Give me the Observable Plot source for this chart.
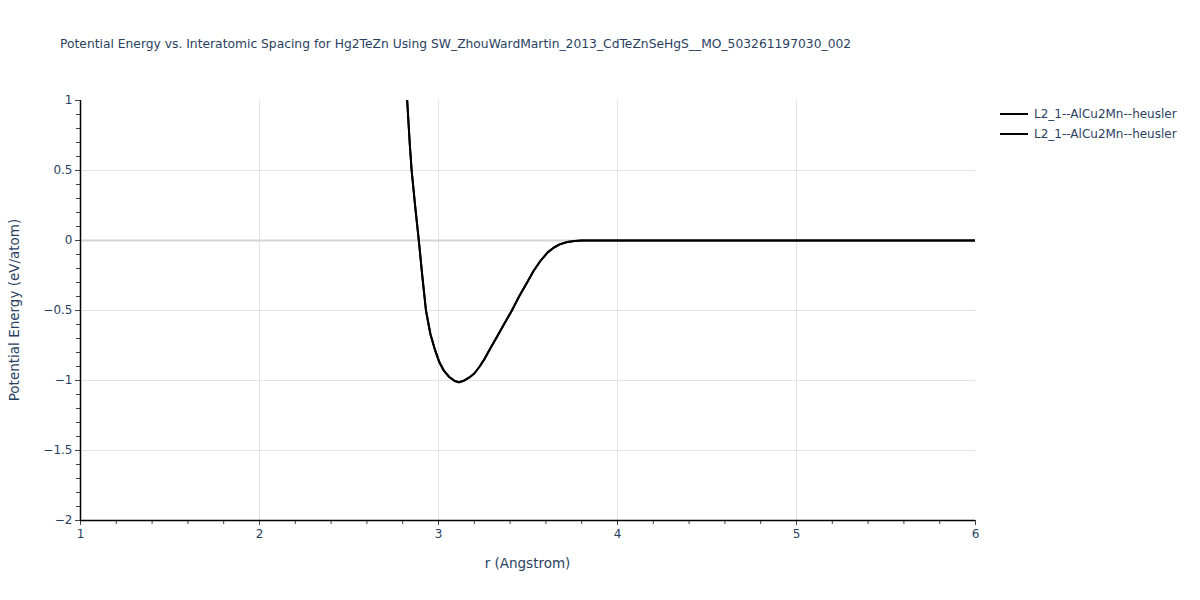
<!DOCTYPE html>
<html><head><meta charset="utf-8">
<script src="https://cdn.jsdelivr.net/npm/d3@7"></script>
<script src="https://cdn.jsdelivr.net/npm/@observablehq/plot@0.6"></script>
<style>
body{margin:0;background:#fff;font-family:"DejaVu Sans",sans-serif;}
#wrap{position:relative;width:1200px;height:600px;overflow:hidden;}
#chart{position:absolute;left:0;top:0;}
.lbl{position:absolute;color:#2a3f5f;white-space:nowrap;}
#title{left:60px;top:37px;font-size:12.3px;}
#xlab{left:0;width:1055px;text-align:center;top:555px;font-size:13.5px;}
#ylab{left:14px;top:310px;font-size:13.5px;transform:translate(-50%,-50%) rotate(-90deg);}
.leg{left:1000px;font-size:12px;display:flex;align-items:center;}
.leg span.sw{display:inline-block;width:28px;height:2px;background:#000;margin-right:6px;}
</style></head><body>
<div id="wrap">
<div id="chart"></div>
<div class="lbl" id="title">Potential Energy vs. Interatomic Spacing for Hg2TeZn Using SW_ZhouWardMartin_2013_CdTeZnSeHgS__MO_503261197030_002</div>
<div class="lbl" id="xlab">r (Angstrom)</div>
<div class="lbl" id="ylab">Potential Energy (eV/atom)</div>
<div id="legend"></div>
</div>
<script>
const seriesNames = ["L2_1--AlCu2Mn--heusler", "L2_1--AlCu2Mn--heusler"];
const rValues = [2.80, 2.825, 2.84, 2.85, 2.87, 2.89, 2.91, 2.93, 2.955, 2.98, 3.005, 3.03, 3.06, 3.09, 3.115, 3.14, 3.17, 3.20, 3.23, 3.26, 3.29, 3.33, 3.37, 3.41, 3.45, 3.495, 3.53, 3.57, 3.61, 3.645, 3.68, 3.72, 3.76, 3.80, 4.0, 4.5, 5.0, 5.5, 6.0];
const energyValues = [1.45, 1.0, 0.68, 0.5, 0.24, 0.0, -0.26, -0.50, -0.67, -0.78, -0.87, -0.93, -0.975, -1.003, -1.012, -1.002, -0.98, -0.95, -0.90, -0.84, -0.77, -0.68, -0.59, -0.50, -0.40, -0.30, -0.22, -0.145, -0.085, -0.05, -0.026, -0.011, -0.003, 0, 0, 0, 0, 0, 0];
const xTicks = [1, 2, 3, 4, 5, 6];
const yTicks = [1, 0.5, 0, -0.5, -1, -1.5, -2];

const data = [];
seriesNames.forEach((s, i) => rValues.forEach((r, j) => data.push({series: i, r, e: energyValues[j]})));

const xMinor = d3.range(10, 61, 2).map(d => d / 10).filter(d => !xTicks.includes(d));
const yMinor = d3.range(-20, 11, 1).map(d => d / 10).filter(d => !yTicks.includes(d));
const fmt = d => (d < 0 ? "\u2212" : "") + String(Math.abs(d));

const chart = Plot.plot({
  width: 1200, height: 600,
  marginLeft: 80, marginRight: 225, marginTop: 100, marginBottom: 80,
  x: {domain: [1, 6]},
  y: {domain: [-2, 1]},
  style: {fontFamily: "DejaVu Sans, sans-serif", fontSize: "12px", color: "#2a3f5f", background: "white"},
  marks: [
    Plot.gridX([2, 3, 4, 5], {stroke: "#e3e3e3", strokeOpacity: 1}),
    Plot.gridY([0.5, -0.5, -1, -1.5], {stroke: "#e3e3e3", strokeOpacity: 1}),
    Plot.ruleY([0], {stroke: "#d4d4d4", strokeWidth: 2}),
    Plot.axisX(xMinor, {tickSize: 4, tickFormat: () => "", label: null, stroke: "#444"}),
    Plot.axisX(xTicks, {tickSize: 5, tickPadding: 4, label: null, tickFormat: fmt, stroke: "#444", fill: "#2a3f5f"}),
    Plot.axisY(yMinor, {tickSize: 4, tickFormat: () => "", label: null, stroke: "#444"}),
    Plot.axisY(yTicks, {tickSize: 5, tickPadding: 3, label: null, tickFormat: fmt, stroke: "#444", fill: "#2a3f5f"}),
    Plot.line(data, {x: "r", y: "e", z: "series", stroke: "black", strokeWidth: 2, clip: true}),
    Plot.ruleX([1], {stroke: "black", strokeWidth: 1.5}),
    Plot.ruleY([-2], {stroke: "black", strokeWidth: 1.5})
  ]
});
document.getElementById("chart").appendChild(chart);

const legend = document.getElementById("legend");
seriesNames.forEach((s, i) => {
  const d = document.createElement("div");
  d.className = "lbl leg";
  d.style.top = (107 + i * 20) + "px";
  d.innerHTML = '<span class="sw"></span>' + s;
  legend.appendChild(d);
});
</script>
</body></html>
